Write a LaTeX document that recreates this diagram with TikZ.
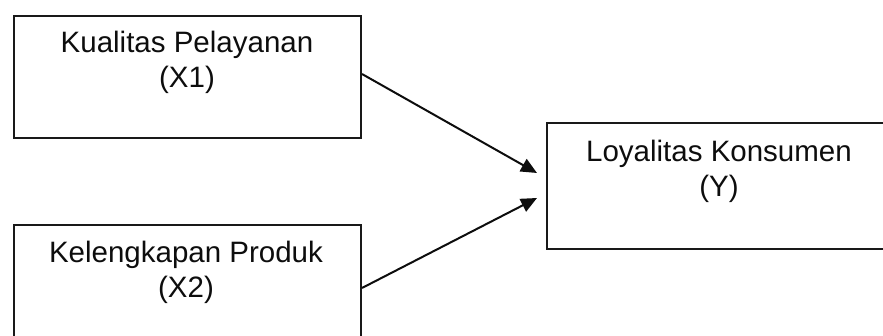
\documentclass[tikz,border=0pt]{standalone}
\usepackage{fontspec}
\setmainfont{Liberation Sans}
\usetikzlibrary{arrows.meta}
\begin{document}
\begin{tikzpicture}[x=1pt,y=-1pt,
  varbox/.style={draw=black!90, line width=2pt, inner sep=0pt, anchor=north west},
  lbl/.style={align=center, inner sep=0pt, anchor=base,
    font=\fontsize{29.5}{35}\selectfont, text=black!95},
  link/.style={line width=2pt, draw=black!95,
    -{Triangle[length=16pt,width=14pt]}}]
  \useasboundingbox (0,0) rectangle (883,336);
  % variable boxes
  \node[varbox, minimum width=347pt, minimum height=122pt] (x1) at (13,15) {};
  \node[varbox, minimum width=347pt, minimum height=122pt] (x2) at (13,224) {};
  \node[varbox, minimum width=350pt, minimum height=126pt] (y) at (546,122) {};
  % box captions (anchored at the baseline of the last line)
  \node[lbl] (tx1) at (187,88) {Kualitas Pelayanan\\(X1)};
  \node[lbl] (tx2) at (186,298) {Kelengkapan Produk\\(X2)};
  \node[lbl] (ty) at (719,197) {Loyalitas Konsumen\\(Y)};
  % arrow targets just left of the dependent box
  \coordinate (t1) at ([xshift=-9pt,yshift=13pt]y.west);
  \coordinate (t2) at ([xshift=-9pt,yshift=-12pt]y.west);
  \draw[link] ([yshift=3pt]x1.east) -- (t1);
  \draw[link] ([yshift=-2pt]x2.east) -- (t2);
\end{tikzpicture}
\end{document}
